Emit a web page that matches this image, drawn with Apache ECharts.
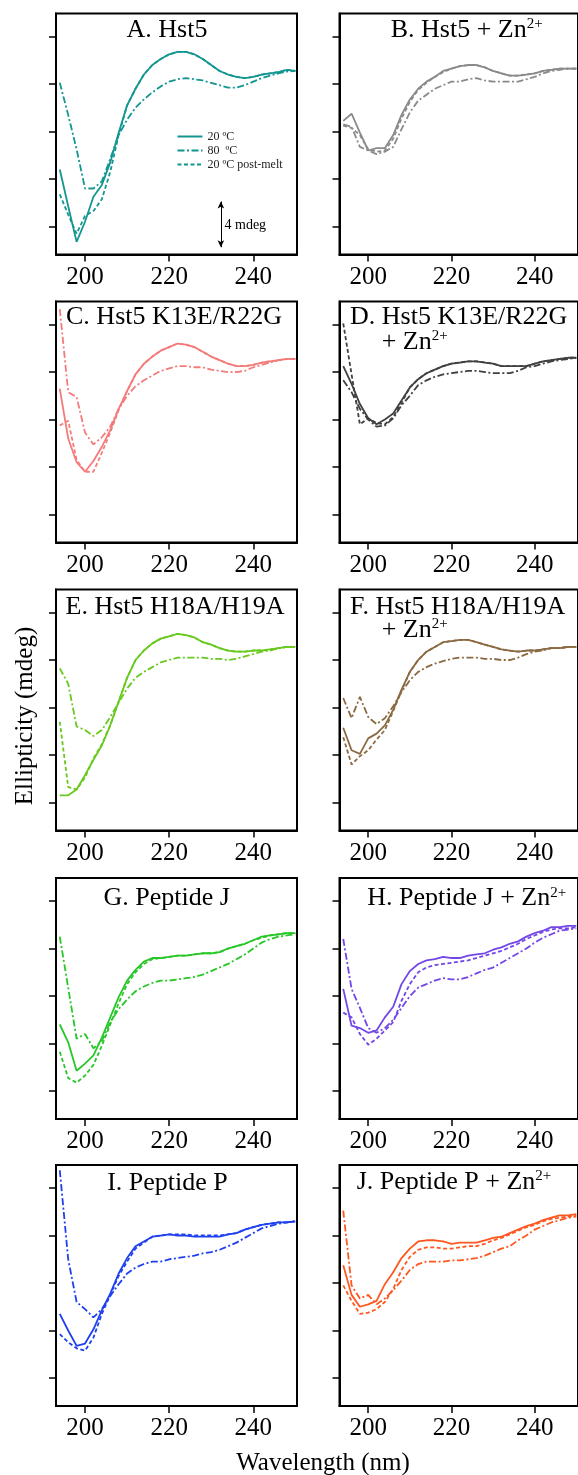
<!DOCTYPE html>
<html><head><meta charset="utf-8">
<script src="https://cdn.jsdelivr.net/npm/echarts@6/dist/echarts.min.js"></script>
<style>html,body{margin:0;padding:0;background:#fff}#c{width:578px;height:1475px}</style>
</head><body><div id="c"></div>
<script>
// ---------- data ----------
const WAVELENGTH = [194,196,198,200,202,204,206,208,210,212,214,216,218,220,222,224,226,228,230,232,234,236,238,240,242,244,246,248,250];
const X_TICKS = [200, 220, 240];
const Y_TICKS = [0, 4, 8, 12, 16];
const SERIES_NAMES = ['20 ºC', '80  ºC', '20 ºC post-melt'];
const PANEL_TITLES = ['A. Hst5', 'B. Hst5 + Zn{s|2+}', 'C. Hst5 K13E/R22G', 'D. Hst5 K13E/R22G', 'E. Hst5 H18A/H19A', 'F. Hst5 H18A/H19A', 'G. Peptide J', 'H. Peptide J + Zn{s|2+}', 'I. Peptide P', 'J. Peptide P + Zn{s|2+}'];
const SUBTITLE = '+ Zn{s|2+}';
const SCALE_LABEL = '4 mdeg';
const X_NAME = 'Wavelength (nm)';
const Y_NAME = 'Ellipticity (mdeg)';

const A_20 = [4.8,1.7,-1.3,0.4,2.5,3.5,5.4,7.9,10.2,11.6,12.8,13.6,14.1,14.5,14.7,14.7,14.5,14.1,13.6,13.1,12.8,12.6,12.5,12.6,12.8,12.9,13.0,13.2,13.1];
const A_80 = [12.1,9.4,6.5,3.2,3.2,3.8,5.7,7.7,9.0,10.0,10.7,11.3,11.8,12.2,12.4,12.5,12.4,12.3,12.1,11.9,11.7,11.7,11.9,12.2,12.5,12.7,12.9,13.05,13.1];
const A_PM = [2.7,1.0,-0.6,0.9,1.3,2.3,4.6,7.7,10.2,11.6,12.8,13.6,14.1,14.5,14.7,14.7,14.5,14.1,13.6,13.1,12.8,12.6,12.5,12.6,12.8,12.9,13.0,13.2,13.1];

const B_20 = [8.9,9.5,7.9,6.4,6.6,6.6,7.7,9.4,10.7,11.6,12.2,12.6,13.1,13.3,13.5,13.6,13.6,13.4,13.1,12.9,12.7,12.7,12.8,12.9,13.1,13.2,13.3,13.3,13.3];
const B_80 = [8.6,8.4,6.7,6.4,6.1,6.3,6.7,8.2,9.6,10.6,11.1,11.6,11.9,12.2,12.2,12.4,12.5,12.3,12.2,12.2,12.2,12.2,12.4,12.6,12.9,13.1,13.2,13.3,13.3];
const B_PM = [8.5,8.3,7.7,6.5,6.3,6.4,7.4,9.1,10.5,11.5,12.1,12.6,13.0,13.3,13.5,13.6,13.6,13.4,13.1,12.9,12.7,12.7,12.8,12.9,13.1,13.2,13.3,13.3,13.3];

const C_20 = [10.6,6.4,4.4,3.6,4.5,5.7,7.1,8.9,10.4,11.8,12.7,13.3,13.8,14.1,14.4,14.3,14.1,13.7,13.3,13.0,12.7,12.5,12.5,12.6,12.8,12.9,13.0,13.1,13.1];
const C_80 = [17.3,10.3,9.9,6.9,5.9,6.5,7.4,8.9,10.0,10.8,11.3,11.7,12.1,12.3,12.5,12.5,12.4,12.4,12.2,12.1,12.0,12.0,12.1,12.4,12.6,12.8,13.0,13.1,13.1];
const C_PM = [7.5,7.9,4.6,3.6,3.6,5.2,6.9,8.8,10.4,11.8,12.7,13.3,13.8,14.1,14.4,14.3,14.1,13.7,13.3,13.0,12.7,12.5,12.5,12.6,12.8,12.9,13.0,13.1,13.1];

const D_20 = [12.5,11.0,9.3,8.1,7.6,8.0,8.5,9.6,10.7,11.4,11.9,12.2,12.5,12.7,12.8,12.9,12.9,12.8,12.7,12.5,12.5,12.5,12.5,12.7,12.9,13.0,13.1,13.2,13.2];
const D_80 = [11.3,10.3,8.9,8.0,7.4,7.5,8.1,9.2,10.0,10.9,11.3,11.6,11.8,11.9,12.0,12.1,12.1,12.0,11.9,11.9,11.9,12.1,12.4,12.5,12.7,12.9,13.0,13.1,13.2];
const D_PM = [16.1,11.8,7.6,8.1,7.7,7.6,8.2,9.4,10.7,11.4,11.9,12.2,12.5,12.7,12.8,12.9,12.9,12.8,12.7,12.5,12.5,12.5,12.5,12.7,12.9,13.0,13.1,13.2,13.2];

const E_20 = [0.6,0.6,1.1,2.3,3.6,4.8,6.5,8.5,10.5,12.0,12.8,13.4,13.8,14.0,14.2,14.1,13.9,13.5,13.3,13.0,12.8,12.7,12.7,12.8,12.8,12.9,13.0,13.1,13.1];
const E_80 = [11.3,10.0,6.4,6.1,5.6,6.1,7.2,8.4,9.6,10.5,11.0,11.4,11.8,12.0,12.2,12.2,12.2,12.2,12.1,12.1,12.0,12.1,12.3,12.5,12.7,12.8,13.0,13.1,13.1];
const E_PM = [6.8,1.3,1.1,2.1,3.7,4.9,6.5,8.5,10.5,12.0,12.8,13.4,13.8,14.0,14.2,14.1,13.9,13.5,13.3,13.0,12.8,12.7,12.7,12.8,12.8,12.9,13.0,13.1,13.1];

const F_20 = [6.3,4.4,4.1,5.4,5.8,6.5,7.8,9.5,11.0,12.0,12.7,13.1,13.5,13.6,13.7,13.7,13.5,13.3,13.1,12.9,12.8,12.7,12.8,12.8,12.9,13.0,13.0,13.1,13.1];
const F_80 = [8.8,7.1,8.9,7.2,6.6,7.1,8.1,9.3,10.3,11.0,11.4,11.7,11.9,12.1,12.2,12.2,12.2,12.1,12.1,12.0,12.0,12.2,12.5,12.7,12.8,13.0,13.0,13.1,13.1];
const F_PM = [5.5,3.2,3.9,4.4,5.3,6.1,7.7,9.4,11.0,12.0,12.7,13.1,13.5,13.6,13.7,13.7,13.5,13.3,13.1,12.9,12.8,12.7,12.8,12.8,12.9,13.0,13.0,13.1,13.1];

const G_20 = [5.6,4.1,1.7,2.3,3.0,4.5,6.2,7.9,9.3,10.2,10.9,11.2,11.2,11.3,11.4,11.4,11.5,11.6,11.6,11.7,12.0,12.2,12.4,12.7,13.0,13.1,13.2,13.3,13.3];
const G_80 = [13.0,8.7,4.4,4.8,3.6,4.2,5.8,6.9,7.7,8.4,8.8,9.1,9.3,9.3,9.4,9.5,9.6,9.8,10.1,10.4,10.7,11.1,11.5,12.0,12.5,12.8,13.0,13.1,13.2];
const G_PM = [3.3,1.1,0.7,1.3,2.2,3.8,5.6,7.4,9.0,10.0,10.7,11.1,11.2,11.3,11.4,11.4,11.5,11.6,11.6,11.7,12.0,12.2,12.4,12.7,12.9,13.1,13.2,13.3,13.3];

const H_20 = [8.6,5.5,5.3,4.9,5.1,6.2,7.1,9.0,10.1,10.7,11.0,11.1,11.3,11.2,11.2,11.4,11.5,11.6,11.9,12.1,12.4,12.6,13.0,13.3,13.5,13.8,13.8,13.9,13.9];
const H_80 = [12.8,8.6,7.0,5.3,4.9,5.3,6.0,7.0,8.0,8.7,9.0,9.3,9.5,9.4,9.4,9.6,9.9,10.2,10.4,10.8,11.2,11.6,12.0,12.5,12.9,13.2,13.5,13.6,13.7];
const H_PM = [6.6,6.2,4.8,3.9,4.4,5.1,5.8,7.6,9.0,10.0,10.4,10.6,10.7,10.8,10.9,11.0,11.2,11.4,11.6,11.8,12.1,12.4,12.8,13.1,13.4,13.6,13.7,13.7,13.8];

const I_20 = [5.4,4.0,2.7,2.9,4.1,5.7,7.1,8.8,10.1,11.1,11.5,11.9,12.0,12.1,12.0,12.0,11.9,11.9,11.9,11.9,12.1,12.2,12.5,12.7,12.9,13.0,13.1,13.1,13.2];
const I_80 = [17.5,10.0,6.4,5.8,5.1,5.8,6.9,7.9,8.8,9.3,9.6,9.8,9.8,10.0,10.1,10.2,10.3,10.5,10.6,10.8,11.1,11.4,11.8,12.2,12.6,12.8,13.0,13.1,13.2];
const I_PM = [3.7,3.0,2.5,2.3,3.4,5.4,7.0,8.6,9.8,10.9,11.4,11.9,12.0,12.1,12.1,12.1,12.0,12.0,12.0,12.0,12.1,12.2,12.5,12.7,12.9,13.0,13.1,13.1,13.2];

const J_20 = [9.5,7.0,6.0,6.2,6.5,7.9,8.9,10.1,10.9,11.5,11.6,11.6,11.5,11.3,11.4,11.4,11.4,11.6,11.8,11.9,12.2,12.5,12.8,13.0,13.3,13.5,13.7,13.7,13.8];
const J_80 = [14.1,7.8,6.7,7.0,6.2,6.7,7.4,8.2,9.1,9.6,9.8,9.8,9.8,9.9,9.9,10.0,10.1,10.3,10.6,10.9,11.1,11.6,12.0,12.5,12.8,13.1,13.3,13.5,13.6];
const J_PM = [7.8,6.5,5.4,5.5,5.8,6.4,7.5,9.1,10.2,10.8,11.0,11.0,10.9,10.9,11.0,11.1,11.1,11.3,11.6,11.8,12.1,12.4,12.7,12.9,13.2,13.4,13.5,13.6,13.7];

// scale bar (data units of panel A)
const SCALE_BAR_X = 232.3;
const SCALE_BAR_Y = [-1.75, 2.1];

// ---------- layout & style ----------
const PANEL_DATA = [[A_20,A_80,A_PM],[B_20,B_80,B_PM],[C_20,C_80,C_PM],[D_20,D_80,D_PM],[E_20,E_80,E_PM],[F_20,F_80,F_PM],[G_20,G_80,G_PM],[H_20,H_80,H_PM],[I_20,I_80,I_PM],[J_20,J_80,J_PM]];
const COLORS = ['#149690','#8a8a8a','#f57b7b','#404040','#68c91e','#8b6a42','#27c727','#7346e8','#1e40f0','#ff5720'];
const COL_LEFT = [56, 339.5];
const ROW_TOP = [13.5, 301.5, 589.5, 878, 1165];
const GW = 241, GH = 241;
const XMIN = 193.1, XMAX = 250.4, YMIN = -2.36, YMAX = 17.94;
const FONT = 'Liberation Serif';
const DASHES = ['solid', [7, 2.5, 2, 2.5], [4, 2.5]];
const TITLE_POS = [
  {x:167, y:30, align:'center'}, {x:466.7, y:30, align:'center'},
  {x:174, y:316.7, align:'center'}, {x:350, y:316.7, align:'left'},
  {x:175, y:606.7, align:'center'}, {x:350, y:606.7, align:'left'},
  {x:166.7, y:898.3, align:'center'}, {x:466.7, y:898.3, align:'center'},
  {x:167.5, y:1183.3, align:'center'}, {x:454, y:1181.7, align:'center'}
];
const SUB_POS = {3:{x:381.7, y:341.7}, 5:{x:381.7, y:630}};

const grids = [], xAxes = [], yAxes = [], series = [], graphics = [];
const rich = {s:{fontFamily:FONT, fontSize:15, fill:'#000', verticalAlign:'top'}};
for (let i = 0; i < 10; i++) {
  const col = i % 2, row = Math.floor(i / 2);
  grids.push({left: COL_LEFT[col], top: ROW_TOP[row], width: GW, height: GH,
    show: true, borderColor: '#000', borderWidth: 2, backgroundColor: 'transparent', containLabel: false});
  xAxes.push({gridIndex: i, type: 'value', min: XMIN, max: XMAX,
    axisLine: {show: true, onZero: false, lineStyle: {color: '#000', width: 2}},
    splitLine: {show: false},
    axisTick: {show: true, inside: false, length: 7, customValues: X_TICKS, lineStyle: {color: '#000', width: 1.5}},
    axisLabel: {show: true, customValues: X_TICKS, fontFamily: FONT, fontSize: 25, color: '#000', margin: 10}});
  yAxes.push({gridIndex: i, type: 'value', min: YMIN, max: YMAX,
    axisLine: {show: true, onZero: false, lineStyle: {color: '#000', width: 2}},
    splitLine: {show: false},
    axisTick: {show: true, inside: false, length: 7, customValues: Y_TICKS, lineStyle: {color: '#000', width: 1.5}},
    axisLabel: {show: false}});
  const order = [1, 2, 0];
  order.forEach(k => {
    const s = {
      name: SERIES_NAMES[k], type: 'line', xAxisIndex: i, yAxisIndex: i,
      data: WAVELENGTH.map((w, j) => [w, PANEL_DATA[i][k][j]]),
      symbol: 'none', showSymbol: false, smooth: false, clip: true,
      lineStyle: {color: COLORS[i], width: 1.8, type: DASHES[k]},
      itemStyle: {color: COLORS[i]}
    };
    if (i === 0 && k === 0) {
      s.markLine = {silent: true, symbol: ['arrow', 'arrow'], symbolSize: [5, 7],
        label: {show: false}, lineStyle: {color: '#000', width: 1, type: 'solid'},
        data: [[{coord: [SCALE_BAR_X, SCALE_BAR_Y[0]]}, {coord: [SCALE_BAR_X, SCALE_BAR_Y[1]]}]]};
    }
    series.push(s);
  });
  const tp = TITLE_POS[i];
  graphics.push({type: 'text', x: tp.x, y: tp.y, silent: true,
    style: {text: PANEL_TITLES[i], fontFamily: FONT, fontSize: 26, fill: '#000',
      align: tp.align, verticalAlign: 'middle', rich: rich}});
  if (SUB_POS[i]) {
    graphics.push({type: 'text', x: SUB_POS[i].x, y: SUB_POS[i].y, silent: true,
      style: {text: SUBTITLE, fontFamily: FONT, fontSize: 26, fill: '#000',
        align: 'left', verticalAlign: 'middle', rich: rich}});
  }
}
graphics.push({type: 'text', x: 224.5, y: 225, silent: true,
  style: {text: SCALE_LABEL, fontFamily: FONT, fontSize: 14, fill: '#000', align: 'left', verticalAlign: 'middle'}});
graphics.push({type: 'text', x: 323, y: 1463, silent: true,
  style: {text: X_NAME, fontFamily: FONT, fontSize: 25, fill: '#000', align: 'center', verticalAlign: 'middle'}});
graphics.push({type: 'text', x: 25, y: 716, rotation: Math.PI / 2, silent: true,
  style: {text: Y_NAME, fontFamily: FONT, fontSize: 25, fill: '#000', align: 'center', verticalAlign: 'middle'}});

const chart = echarts.init(document.getElementById('c'), null, {renderer: 'canvas'});
chart.setOption({
  animation: false,
  backgroundColor: '#fff',
  grid: grids, xAxis: xAxes, yAxis: yAxes, series: series,
  legend: {data: SERIES_NAMES, orient: 'vertical', left: 176.5, top: 130.5, padding: 0,
    itemWidth: 25, itemHeight: 12, itemGap: 2, selectedMode: false,
    itemStyle: {color: 'rgba(0,0,0,0)', borderWidth: 0, opacity: 0},
    lineStyle: {width: 2},
    textStyle: {fontFamily: FONT, fontSize: 12, color: '#222'}},
  graphic: graphics
});
</script></body></html>
